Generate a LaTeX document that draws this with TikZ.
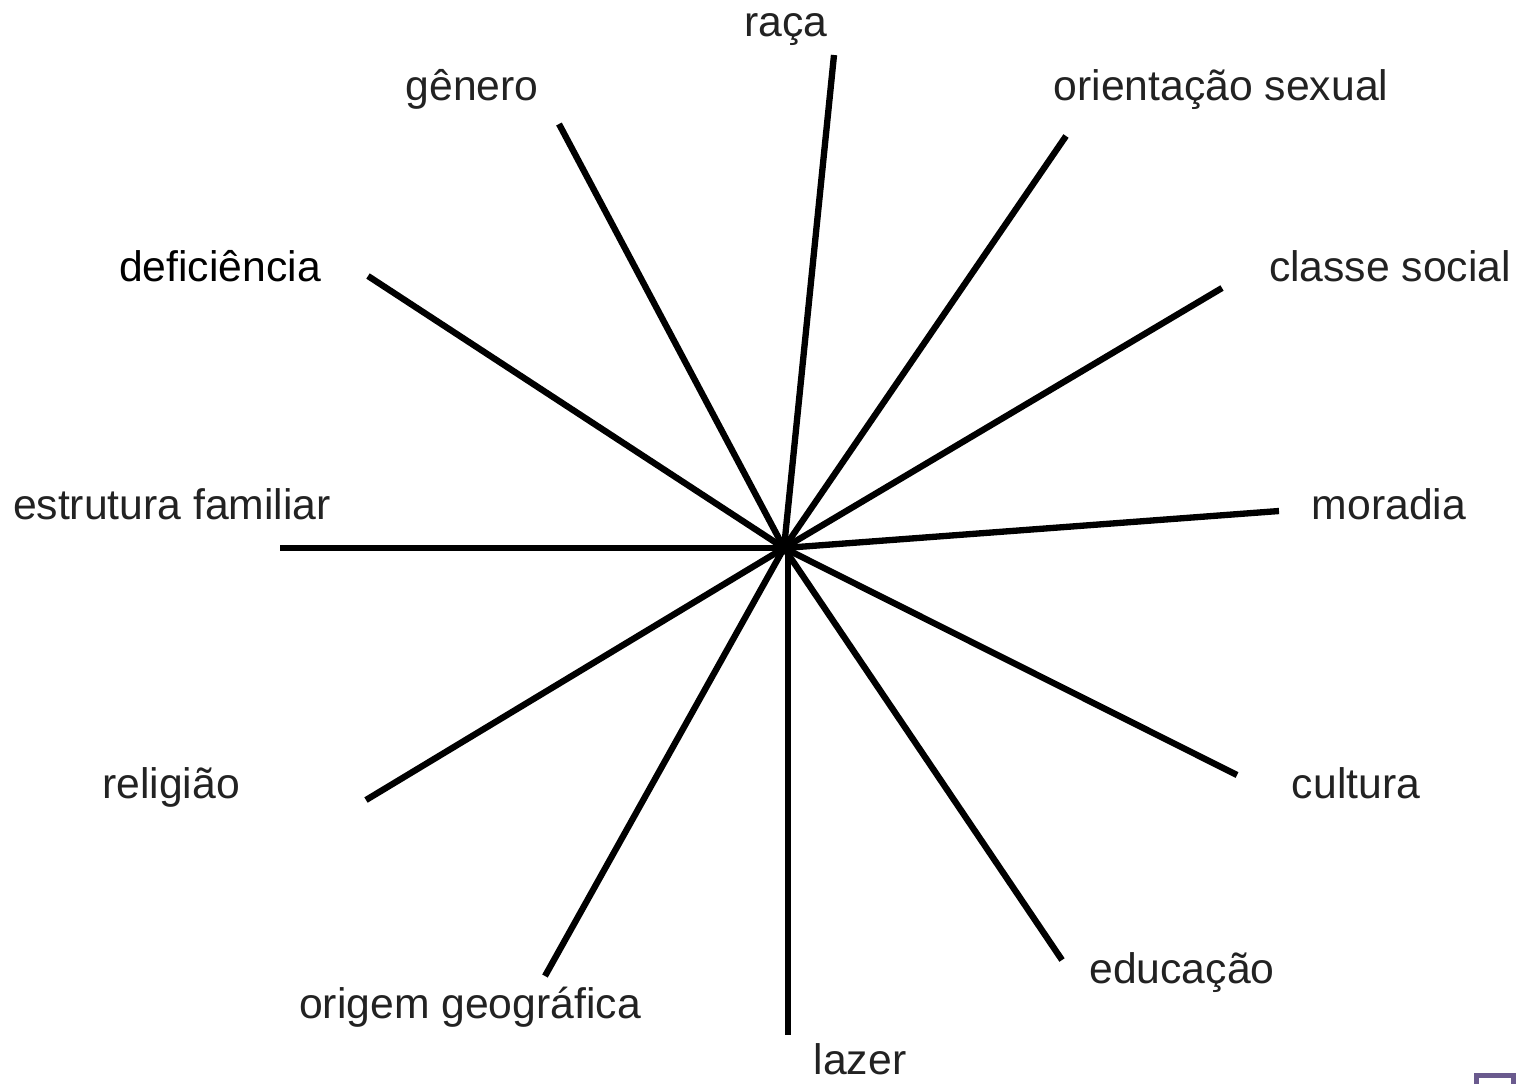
\documentclass[tikz,border=0pt]{standalone}
\usepackage{fontspec}
\setmainfont{Liberation Sans}
\definecolor{txt}{HTML}{222222}
\definecolor{boxc}{HTML}{6A5A8E}
\begin{document}
\begin{tikzpicture}[x=0.02cm,y=-0.02cm,
  spoke/.style={line width=3.6pt,black},
  lbl/.style={font=\fontsize{24.3}{28}\selectfont,text=txt,inner sep=0pt,anchor=base}]
\useasboundingbox (0,0) rectangle (1518,1083);
\clip (0,0) rectangle (1518,1083);
\coordinate (c) at (784,548);
\coordinate (c2) at (788,548);
\coordinate (eraca) at (834,55);
\coordinate (egen) at (559,124);
\coordinate (eori) at (1066,136);
\coordinate (edef) at (368,276);
\coordinate (ecla) at (1222,288);
\coordinate (eest) at (280,548);
\coordinate (emor) at (1279,511);
\coordinate (erel) at (366,800);
\coordinate (ecul) at (1237,775);
\coordinate (eorg) at (545,976);
\coordinate (eedu) at (1062,960);
\coordinate (elaz) at (788,1035);
\draw[spoke] (c) -- (eraca);
\draw[spoke] (c) -- (egen);
\draw[spoke] (c) -- (eori);
\draw[spoke] (c) -- (edef);
\draw[spoke] (c) -- (ecla);
\draw[spoke] (c) -- (eest);
\draw[spoke] (c) -- (emor);
\draw[spoke] (c) -- (erel);
\draw[spoke] (c) -- (ecul);
\draw[spoke] (c) -- (eorg);
\draw[spoke] (c) -- (eedu);
\draw[spoke] (c2) -- (elaz);
\node[lbl] (lraca) at (786,36) {raça};
\node[lbl] (lgen) at (472,100) {gênero};
\node[lbl] (lori) at (1221,100) {orientação sexual};
\node[lbl,text=black] (ldef) at (220,281) {deficiência};
\node[lbl] (lcla) at (1390,281) {classe social};
\node[lbl] (lest) at (172,519) {estrutura familiar};
\node[lbl] (lmor) at (1389,519) {moradia};
\node[lbl] (lrel) at (171,798) {religião};
\node[lbl] (lcul) at (1356,798) {cultura};
\node[lbl] (lorg) at (470,1018) {origem geográfica};
\node[lbl] (ledu) at (1182,983) {educação};
\node[lbl] (llaz) at (860,1074) {lazer};
\draw[boxc,line width=2.85pt] (1476,1100) -- (1476,1075) -- (1513,1075) -- (1513,1100);
\end{tikzpicture}
\end{document}
